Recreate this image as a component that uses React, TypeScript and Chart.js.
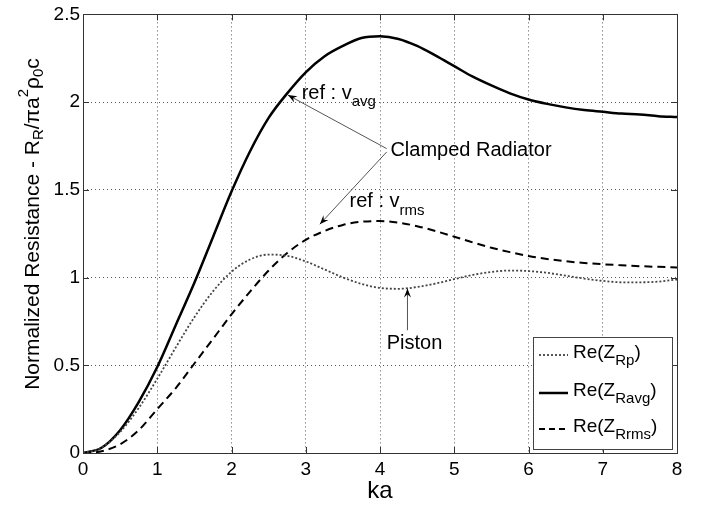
import React, { useEffect, useRef } from "react";
import { Chart, registerables } from "chart.js";

Chart.register(...registerables);

// ---- data ----
const ka = [0, 0.25, 0.5, 0.75, 1, 1.25, 1.5, 1.75, 2, 2.25, 2.5, 2.75, 3, 3.25, 3.5, 3.75, 4, 4.25, 4.5, 4.75, 5, 5.25, 5.5, 5.75, 6, 6.25, 6.5, 6.75, 7, 7.25, 7.5, 7.75, 8];
const rePiston = [0, 0.031, 0.12, 0.256, 0.423, 0.602, 0.774, 0.921, 1.033, 1.103, 1.131, 1.124, 1.092, 1.047, 1.001, 0.964, 0.941, 0.936, 0.946, 0.966, 0.991, 1.015, 1.032, 1.04, 1.037, 1.027, 1.011, 0.994, 0.981, 0.973, 0.973, 0.977, 0.989];
const reAvg = [0, 0.03, 0.13, 0.29, 0.49, 0.73, 0.97, 1.23, 1.49, 1.72, 1.91, 2.05, 2.17, 2.26, 2.32, 2.365, 2.375, 2.36, 2.32, 2.265, 2.205, 2.145, 2.095, 2.05, 2.015, 1.99, 1.97, 1.955, 1.945, 1.935, 1.93, 1.92, 1.915];
const reRms = [0, 0.01, 0.05, 0.13, 0.25, 0.37, 0.51, 0.65, 0.79, 0.92, 1.04, 1.14, 1.215, 1.265, 1.3, 1.318, 1.322, 1.313, 1.293, 1.265, 1.233, 1.2, 1.17, 1.145, 1.123, 1.106, 1.093, 1.083, 1.076, 1.07, 1.065, 1.061, 1.058];
const xTicks = ["0", "1", "2", "3", "4", "5", "6", "7", "8"];
const yTicks = ["0", "0.5", "1", "1.5", "2", "2.5"];

const FONT = "'Liberation Sans', Arial, Helvetica, sans-serif";

type Seg = { t: string; size: number; dy: number };

function segWidth(ctx: CanvasRenderingContext2D, segs: Seg[]) {
  let w = 0;
  for (const s of segs) {
    ctx.font = `${s.size}px ${FONT}`;
    w += ctx.measureText(s.t).width;
  }
  return w;
}

function drawSegs(ctx: CanvasRenderingContext2D, segs: Seg[], x: number, y: number) {
  ctx.textAlign = "left";
  ctx.textBaseline = "middle";
  let cx = x;
  for (const s of segs) {
    ctx.font = `${s.size}px ${FONT}`;
    ctx.fillText(s.t, cx, y + s.dy);
    cx += ctx.measureText(s.t).width;
  }
}

function arrow(ctx: CanvasRenderingContext2D, x1: number, y1: number, x2: number, y2: number) {
  ctx.save();
  ctx.strokeStyle = "#555";
  ctx.lineWidth = 1;
  ctx.setLineDash([]);
  ctx.beginPath();
  ctx.moveTo(x1, y1);
  ctx.lineTo(x2, y2);
  ctx.stroke();
  const a = Math.atan2(y2 - y1, x2 - x1);
  const L = 9;
  const W = 3.5;
  const bx = x2 - L * Math.cos(a);
  const by = y2 - L * Math.sin(a);
  const nx = -Math.sin(a);
  const ny = Math.cos(a);
  const mx = x2 - L * 0.65 * Math.cos(a);
  const my = y2 - L * 0.65 * Math.sin(a);
  ctx.fillStyle = "#000";
  ctx.beginPath();
  ctx.moveTo(x2, y2);
  ctx.lineTo(bx + nx * W, by + ny * W);
  ctx.lineTo(mx, my);
  ctx.lineTo(bx - nx * W, by - ny * W);
  ctx.closePath();
  ctx.fill();
  ctx.restore();
}

const decorPlugin = {
  id: "decor",
  afterDatasetsDraw(chart: any) {
    const ctx: CanvasRenderingContext2D = chart.ctx;
    const xs = chart.scales.x;
    const ys = chart.scales.y;
    const { left, right, top, bottom } = chart.chartArea;
    const X = (v: number) => xs.getPixelForValue(v);
    const Y = (v: number) => ys.getPixelForValue(v);

    ctx.save();
    // box
    ctx.strokeStyle = "#333";
    ctx.lineWidth = 1;
    ctx.setLineDash([]);
    ctx.strokeRect(Math.round(left) + 0.5, Math.round(top) + 0.5, Math.round(right - left), Math.round(bottom - top));
    // inward ticks
    ctx.beginPath();
    for (let i = 0; i < xTicks.length; i++) {
      const px = Math.round(X(Number(xTicks[i]))) + 0.5;
      ctx.moveTo(px, bottom);
      ctx.lineTo(px, bottom - 6);
      ctx.moveTo(px, top);
      ctx.lineTo(px, top + 6);
    }
    for (let i = 0; i < yTicks.length; i++) {
      const py = Math.round(Y(Number(yTicks[i]))) + 0.5;
      ctx.moveTo(left, py);
      ctx.lineTo(left + 6, py);
      ctx.moveTo(right, py);
      ctx.lineTo(right - 6, py);
    }
    ctx.stroke();

    ctx.fillStyle = "#000";
    // annotations
    drawSegs(ctx, [{ t: "ref : v", size: 20, dy: 0 }, { t: "avg", size: 15, dy: 9 }], X(2.945), Y(2.05));
    drawSegs(ctx, [{ t: "Clamped Radiator", size: 20, dy: 0 }], X(4.14), Y(1.725));
    drawSegs(ctx, [{ t: "ref : v", size: 20, dy: 0 }, { t: "rms", size: 15, dy: 9 }], X(3.59), Y(1.431));
    drawSegs(ctx, [{ t: "Piston", size: 20, dy: 0 }], X(4.09), Y(0.625));
    arrow(ctx, X(4.09), Y(1.735), X(2.76), Y(2.04));
    arrow(ctx, X(4.09), Y(1.716), X(3.19), Y(1.304));
    arrow(ctx, X(4.37), Y(0.70), X(4.37), Y(0.938));

    // legend
    const lx = 533, ly = 337, lw = 139, lh = 112;
    ctx.fillStyle = "#fff";
    ctx.fillRect(lx, ly, lw, lh);
    ctx.strokeStyle = "#444";
    ctx.lineWidth = 1;
    ctx.strokeRect(lx + 0.5, ly + 0.5, lw, lh);
    const rows = [
      { sub: "Rp", dash: [2, 2], w: 1.8, c: "#444", y: 353 },
      { sub: "Ravg", dash: [], w: 2.5, c: "#000", y: 391 },
      { sub: "Rrms", dash: [6, 4], w: 2, c: "#000", y: 427 },
    ];
    for (const r of rows) {
      ctx.strokeStyle = r.c;
      ctx.lineWidth = r.w;
      ctx.setLineDash(r.dash);
      ctx.beginPath();
      ctx.moveTo(539, r.y + 2);
      ctx.lineTo(568, r.y + 2);
      ctx.stroke();
      ctx.setLineDash([]);
      ctx.fillStyle = "#000";
      drawSegs(
        ctx,
        [
          { t: "Re(Z", size: 19, dy: 0 },
          { t: r.sub, size: 15, dy: 8 },
          { t: ")", size: 19, dy: 0 },
        ],
        573,
        r.y
      );
    }

    // x title
    ctx.fillStyle = "#000";
    ctx.font = `24px ${FONT}`;
    ctx.textAlign = "center";
    ctx.textBaseline = "middle";
    ctx.fillText("ka", (left + right) / 2, 491);

    // y title
    const segs: Seg[] = [
      { t: "Normalized Resistance - R", size: 21, dy: 0 },
      { t: "R", size: 15, dy: 6 },
      { t: "/\u03C0a", size: 21, dy: 0 },
      { t: "2", size: 15, dy: -9 },
      { t: "\u03C1", size: 21, dy: 0 },
      { t: "0", size: 15, dy: 6 },
      { t: "c", size: 21, dy: 0 },
    ];
    const tw = segWidth(ctx, segs);
    ctx.translate(33, 224);
    ctx.rotate(-Math.PI / 2);
    drawSegs(ctx, segs, -tw / 2, 0);
    ctx.restore();
  },
};

export default function App() {
  const ref = useRef<HTMLCanvasElement | null>(null);
  useEffect(() => {
    document.body.style.margin = "0";
    const canvas = ref.current;
    if (!canvas) return;
    const mk = (arr: number[]) => ka.map((x, i) => ({ x, y: arr[i] }));
    const gridColor = (c: any) =>
      c.index === 0 || c.tick?.value === c.scale.max ? "rgba(0,0,0,0)" : "rgba(60,60,60,0.85)";
    const chart = new Chart(canvas, {
      type: "line",
      data: {
        datasets: [
          { label: "Re(Z_Rp)", data: mk(rePiston), borderColor: "#444", borderWidth: 1.8, borderDash: [2, 2], pointRadius: 0, cubicInterpolationMode: "monotone", fill: false },
          { label: "Re(Z_Ravg)", data: mk(reAvg), borderColor: "#000", borderWidth: 2.5, pointRadius: 0, cubicInterpolationMode: "monotone", fill: false },
          { label: "Re(Z_Rrms)", data: mk(reRms), borderColor: "#000", borderWidth: 2, borderDash: [8, 5], pointRadius: 0, cubicInterpolationMode: "monotone", fill: false },
        ],
      },
      options: {
        animation: false,
        responsive: false,
        devicePixelRatio: 1,
        layout: { padding: { top: 14, right: 29, left: 0, bottom: 0 } },
        plugins: { legend: { display: false }, tooltip: { enabled: false } },
        scales: {
          x: {
            type: "linear",
            min: 0,
            max: 8,
            afterFit: (s: any) => { s.height = 53; },
            afterBuildTicks: (s: any) => { s.ticks = xTicks.map((t) => ({ value: Number(t) })); },
            ticks: {
              padding: 5,
              color: "#000",
              font: { family: FONT, size: 19 },
              callback: (v: any) => xTicks[xTicks.indexOf(String(v))] ?? "",
            },
            grid: { color: gridColor, lineWidth: 1, drawTicks: false } as any,
            border: { display: false, dash: [1, 3] },
          },
          y: {
            type: "linear",
            min: 0,
            max: 2.5,
            afterFit: (s: any) => { s.width = 83; },
            afterBuildTicks: (s: any) => { s.ticks = yTicks.map((t) => ({ value: Number(t) })); },
            ticks: {
              padding: 3,
              color: "#000",
              font: { family: FONT, size: 19 },
              callback: (v: any) => yTicks.find((t) => Number(t) === v) ?? "",
            },
            grid: { color: gridColor, lineWidth: 1, drawTicks: false } as any,
            border: { display: false, dash: [1, 3] },
          },
        },
      },
      plugins: [decorPlugin],
    } as any);
    return () => chart.destroy();
  }, []);
  return (
    <div style={{ width: 706, height: 506 }}>
      <canvas ref={ref} width={706} height={506} style={{ display: "block" }} />
    </div>
  );
}
